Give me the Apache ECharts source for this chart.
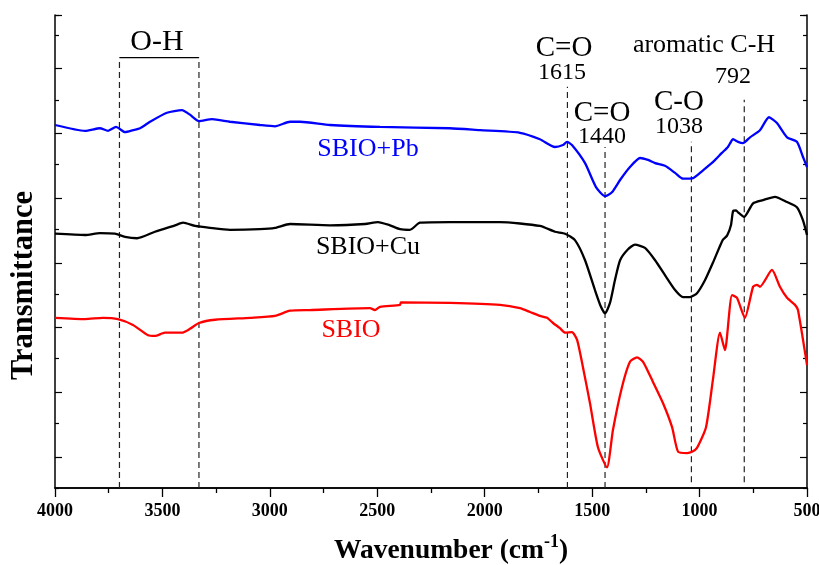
<!DOCTYPE html>
<html>
<head>
<meta charset="utf-8">
<script src="https://cdn.jsdelivr.net/npm/echarts@6/dist/echarts.min.js"></script>
<style>
  html, body { margin: 0; padding: 0; background: #fff; }
  #chart { width: 819px; height: 565px; }
</style>
</head>
<body>
<div id="chart"></div>
<script>
// FTIR spectra: [wavenumber (cm-1), transmittance (offset, arb. units)]
const spectrumPb = [
  [4000, 56.1], [3860, 55.2], [3791, 55.6], [3753, 55.2], [3716, 55.8], [3674, 55.0],
  [3637, 55.3], [3604, 55.6], [3558, 56.6], [3479, 58.0], [3409, 58.4], [3372, 57.7],
  [3330, 56.7], [3269, 57.0], [3186, 56.6], [3046, 56.1], [2976, 55.9], [2906, 56.6],
  [2860, 56.6], [2720, 56.1], [2487, 55.8], [2162, 55.6], [2022, 55.3], [1836, 54.9],
  [1743, 53.9], [1673, 52.7], [1636, 53.0], [1617, 53.5], [1594, 53.0], [1533, 50.2],
  [1482, 46.5], [1440, 45.1], [1408, 45.7], [1370, 47.6], [1324, 49.6], [1277, 51.0],
  [1240, 50.7], [1207, 50.2], [1161, 49.8], [1114, 48.7], [1077, 47.8], [1030, 47.9],
  [984, 49.1], [937, 50.4], [896, 51.8], [868, 52.7], [844, 53.9], [821, 53.5],
  [798, 53.3], [765, 54.2], [719, 55.3], [677, 57.3], [640, 56.4], [593, 54.2],
  [547, 53.5], [519, 51.2], [500, 49.6]
];

const spectrumCu = [
  [4000, 39.3], [3860, 39.1], [3791, 39.4], [3721, 39.3], [3674, 38.8], [3618, 38.6],
  [3535, 39.6], [3441, 40.6], [3404, 41.0], [3348, 40.5], [3279, 40.2], [3186, 39.9],
  [3046, 40.0], [2976, 40.2], [2906, 40.8], [2720, 40.6], [2557, 40.8], [2497, 41.1],
  [2441, 40.6], [2394, 40.0], [2348, 39.9], [2301, 41.0], [2162, 41.1], [1929, 41.1],
  [1743, 40.5], [1673, 39.6], [1626, 39.3], [1580, 38.3], [1533, 35.2], [1487, 30.6],
  [1459, 28.0], [1440, 27.0], [1417, 28.6], [1394, 32.1], [1370, 35.2], [1333, 36.9],
  [1301, 37.6], [1254, 37.1], [1207, 35.2], [1161, 32.9], [1114, 30.6], [1077, 29.5],
  [1045, 29.5], [1012, 30.1], [975, 32.1], [938, 34.8], [905, 37.4], [891, 38.4],
  [872, 39.0], [854, 40.6], [844, 42.8], [830, 42.9], [821, 42.6], [793, 41.9],
  [751, 44.0], [705, 44.5], [649, 45.0], [593, 44.2], [547, 43.4], [519, 41.4], [500, 39.1]
];

const spectrumSBIO = [
  [4000, 26.3], [3860, 26.1], [3777, 26.3], [3707, 26.1], [3637, 25.2], [3567, 23.6],
  [3535, 23.5], [3488, 24.0], [3409, 24.0], [3372, 24.6], [3330, 25.5], [3255, 26.0],
  [3092, 26.3], [2976, 26.6], [2906, 27.4], [2813, 27.5], [2534, 27.8], [2511, 27.5],
  [2487, 28.0], [2394, 28.3], [2390, 28.7], [2162, 28.6], [1929, 28.3], [1836, 27.8],
  [1789, 27.2], [1743, 26.6], [1710, 26.3], [1682, 25.5], [1650, 24.7], [1626, 24.0],
  [1594, 24.1], [1570, 22.9], [1543, 18.7], [1510, 13.1], [1473, 6.3], [1431, 3.2],
  [1403, 9.0], [1361, 15.6], [1324, 19.5], [1291, 20.2], [1263, 19.5], [1217, 16.4],
  [1170, 13.1], [1128, 9.4], [1100, 5.6], [1058, 5.4], [1035, 5.6], [1012, 6.2],
  [970, 9.4], [938, 16.7], [905, 24.0], [882, 21.3], [849, 29.8], [826, 29.4],
  [789, 26.3], [751, 31.1], [733, 31.4], [719, 31.1], [663, 33.7], [626, 31.1],
  [593, 29.4], [556, 28.3], [542, 27.5], [500, 19.0]
];

// Band markers: position, top of the dashed guide, bottom of the guide
const bandPositions = [3700, 3330, 1615, 1440, 1038, 792];
const bandTops = [66.5, 66.5, 62.0, 52.7, 53.5, 60.0];
const bandBottoms = [0, 0, 0, 0, 0.9, 0.9];
const ohRange = [3700, 3330];

const xTicks = { min: 500, max: 4000, step: 500 };

const serif = "'Liberation Serif', 'Times New Roman', serif";

const chart = echarts.init(document.getElementById('chart'), null, { renderer: 'canvas' });

const guideSeries = bandPositions.map((wn, i) => ({
  type: 'line',
  xAxisIndex: 0, yAxisIndex: 0,
  data: [[wn, bandBottoms[i]], [wn, bandTops[i]]],
  symbol: 'none', silent: true, z: 1,
  lineStyle: { color: '#222', width: 1.2, type: [6, 4] }
}));

const spectrumStyle = (color) => ({
  type: 'line', xAxisIndex: 0, yAxisIndex: 0,
  symbol: 'none', smooth: 0.2, silent: true, z: 3,
  lineStyle: { color: color, width: 2.3 }
});

const option = {
  animation: false,
  backgroundColor: '#fff',
  grid: [
    { left: 55, right: 12, top: 15, bottom: 77, show: false, outerBoundsMode: 'none', containLabel: false },
    { left: 55, right: 12, top: 15, bottom: 108, show: false, outerBoundsMode: 'none', containLabel: false }
  ],
  xAxis: [
    {
      gridIndex: 0, type: 'value', inverse: true,
      min: xTicks.min, max: xTicks.max, interval: xTicks.step,
      position: 'bottom',
      axisLine: { show: true, lineStyle: { color: '#000', width: 1.5 } },
      axisTick: { show: true, inside: false, length: 9, lineStyle: { color: '#000', width: 1.3 } },
      minorTick: { show: true, splitNumber: 2, length: 5, lineStyle: { color: '#000', width: 1.3 } },
      splitLine: { show: false },
      axisLabel: {
        color: '#000', fontFamily: serif, fontWeight: 'bold', fontSize: 18, margin: 14,
        formatter: (v) => String(v)
      },
      name: '{a|Wavenumber (cm}{s|-1}{a|)}',
      nameLocation: 'middle', nameGap: 45,
      nameTextStyle: {
        padding: [0, 0, 0, 40],
        rich: {
          a: { fontFamily: serif, fontWeight: 'bold', fontSize: 27.5, color: '#000', verticalAlign: 'bottom', lineHeight: 32 },
          s: { fontFamily: serif, fontWeight: 'bold', fontSize: 18, color: '#000', verticalAlign: 'top', lineHeight: 32, padding: [0, 0, 15, 0] }
        }
      }
    },
    {
      gridIndex: 0, type: 'value', inverse: true,
      min: xTicks.min, max: xTicks.max, interval: xTicks.step,
      position: 'top',
      axisLine: { show: true, lineStyle: { color: '#000', width: 1.5 } },
      axisTick: { show: true, inside: true, length: 3, lineStyle: { color: '#000' } },
      minorTick: { show: true, splitNumber: 2, length: 3, lineStyle: { color: '#000' } },
      splitLine: { show: false }, axisLabel: { show: false }
    },
    {
      gridIndex: 1, type: 'value', inverse: true,
      min: xTicks.min, max: xTicks.max, show: false
    }
  ],
  yAxis: [
    {
      gridIndex: 0, type: 'value', min: 0, max: 73.1, interval: 10,
      position: 'left',
      axisLine: { show: true, lineStyle: { color: '#000', width: 1.5 } },
      axisTick: { show: true, inside: true, length: 4, lineStyle: { color: '#000', width: 1.2 } },
      splitLine: { show: false }, axisLabel: { show: false },
      name: 'Transmittance', nameLocation: 'middle', nameGap: 15,
      nameTextStyle: { fontFamily: serif, fontWeight: 'bold', fontSize: 30.5, color: '#000', padding: [0, 68, 0, 0] }
    },
    {
      gridIndex: 0, type: 'value', min: 0, max: 73.1, interval: 10,
      position: 'right',
      axisLine: { show: true, lineStyle: { color: '#000', width: 1.5 } },
      axisTick: { show: true, inside: true, length: 4, lineStyle: { color: '#000', width: 1.2 } },
      splitLine: { show: false }, axisLabel: { show: false }
    },
    {
      gridIndex: 1, type: 'value', min: 0, max: 68.3, interval: 10,
      position: 'left',
      axisLine: { show: false },
      axisTick: { show: true, inside: true, length: 7, lineStyle: { color: '#000', width: 1.2 } },
      splitLine: { show: false }, axisLabel: { show: false }
    },
    {
      gridIndex: 1, type: 'value', min: 0, max: 68.3, interval: 10,
      position: 'right',
      axisLine: { show: false },
      axisTick: { show: true, inside: true, length: 7, lineStyle: { color: '#000', width: 1.2 } },
      splitLine: { show: false }, axisLabel: { show: false }
    }
  ],
  series: [
    ...guideSeries,
    {
      type: 'line', xAxisIndex: 0, yAxisIndex: 0,
      data: [[ohRange[0], bandTops[0]], [ohRange[1], bandTops[1]]],
      symbol: 'none', silent: true, z: 1,
      lineStyle: { color: '#000', width: 1.3 }
    },
    { ...spectrumStyle('#0000ff'), name: 'SBIO+Pb', data: spectrumPb },
    { ...spectrumStyle('#000000'), name: 'SBIO+Cu', data: spectrumCu },
    { ...spectrumStyle('#ff0000'), name: 'SBIO', data: spectrumSBIO }
  ],
  graphic: [
    { type: 'text', x: 157, y: 42, style: { text: 'O-H', font: `30px ${serif}`, fill: '#000', textAlign: 'center', textVerticalAlign: 'middle' } },
    { type: 'text', x: 564, y: 48, style: { text: 'C=O', font: `29px ${serif}`, fill: '#000', textAlign: 'center', textVerticalAlign: 'middle' } },
    { type: 'text', x: 562, y: 73, style: { text: '1615', font: `24px ${serif}`, fill: '#000', textAlign: 'center', textVerticalAlign: 'middle' } },
    { type: 'text', x: 602, y: 113, style: { text: 'C=O', font: `29px ${serif}`, fill: '#000', textAlign: 'center', textVerticalAlign: 'middle' } },
    { type: 'text', x: 602, y: 137, style: { text: '1440', font: `24px ${serif}`, fill: '#000', textAlign: 'center', textVerticalAlign: 'middle' } },
    { type: 'text', x: 679, y: 102, style: { text: 'C-O', font: `29px ${serif}`, fill: '#000', textAlign: 'center', textVerticalAlign: 'middle' } },
    { type: 'text', x: 679, y: 127, style: { text: '1038', font: `24px ${serif}`, fill: '#000', textAlign: 'center', textVerticalAlign: 'middle' } },
    { type: 'text', x: 704, y: 45, style: { text: 'aromatic C-H', font: `26px ${serif}`, fill: '#000', textAlign: 'center', textVerticalAlign: 'middle' } },
    { type: 'text', x: 733, y: 77, style: { text: '792', font: `24px ${serif}`, fill: '#000', textAlign: 'center', textVerticalAlign: 'middle' } },
    { type: 'text', x: 368, y: 149, style: { text: 'SBIO+Pb', font: `26px ${serif}`, fill: '#0000ff', textAlign: 'center', textVerticalAlign: 'middle' } },
    { type: 'text', x: 368, y: 247, style: { text: 'SBIO+Cu', font: `26px ${serif}`, fill: '#000', textAlign: 'center', textVerticalAlign: 'middle' } },
    { type: 'text', x: 351, y: 330, style: { text: 'SBIO', font: `26px ${serif}`, fill: '#ff0000', textAlign: 'center', textVerticalAlign: 'middle' } }
  ]
};

chart.setOption(option);
</script>
</body>
</html>
